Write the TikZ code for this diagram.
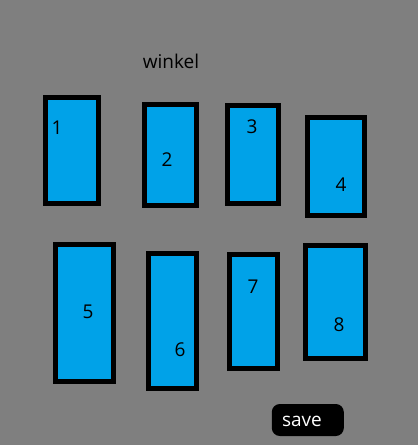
\documentclass[tikz,border=0pt]{standalone}
\usepackage{fontspec}
\setmainfont{Open Sans}
\definecolor{bggray}{RGB}{127,127,127}
\definecolor{paintblue}{RGB}{0,162,232}
\tikzset{
  blk/.style={draw=black, fill=paintblue, line width=5pt, inner sep=0pt, outer sep=0pt},
  lbl/.style={anchor=base, inner sep=0pt, font=\fontsize{19}{19}\selectfont, text=black},
}
\newcommand{\blkbox}[5]{% name, x1, y1, x2, y2 (outer pixel edges)
  \node[blk, minimum width={(#4-#2-5)*1pt}, minimum height={(#5-#3-5)*1pt}] (#1) at ({(#2+#4)/2},{(#3+#5)/2}) {};
}
\begin{document}
\begin{tikzpicture}[x=1pt,y=-1pt]
\fill[bggray] (0,0) rectangle (418,445);
\useasboundingbox (0,0) rectangle (418,445);
\blkbox{r1}{43}{95}{101}{206}
\blkbox{r2}{142}{102}{199}{208}
\blkbox{r3}{225}{103}{281}{206}
\blkbox{r4}{305}{115}{367}{218}
\blkbox{r5}{53}{242}{116}{384}
\blkbox{r6}{146}{251}{199}{391}
\blkbox{r7}{227}{252}{280}{371}
\blkbox{r8}{303}{243}{368}{361}
\node[lbl] (l1) at (57,134) {1};
\node[lbl] (l2) at (167,166) {2};
\node[lbl] (l3) at (252,133) {3};
\node[lbl] (l4) at (341,191) {4};
\node[lbl] (l5) at (88,318) {5};
\node[lbl] (l6) at (180,356) {6};
\node[lbl] (l7) at (253,293) {7};
\node[lbl] (l8) at (339,331) {8};
\node[lbl] (title) at (171,68.3) {winkel};
\node[fill=black, rounded corners=8pt, minimum width=72pt, minimum height=32pt, inner sep=0pt] (savebtn) at (307.8,420) {};
\node[lbl, text=white] (savetxt) at (302,426) {save};
\end{tikzpicture}
\end{document}
